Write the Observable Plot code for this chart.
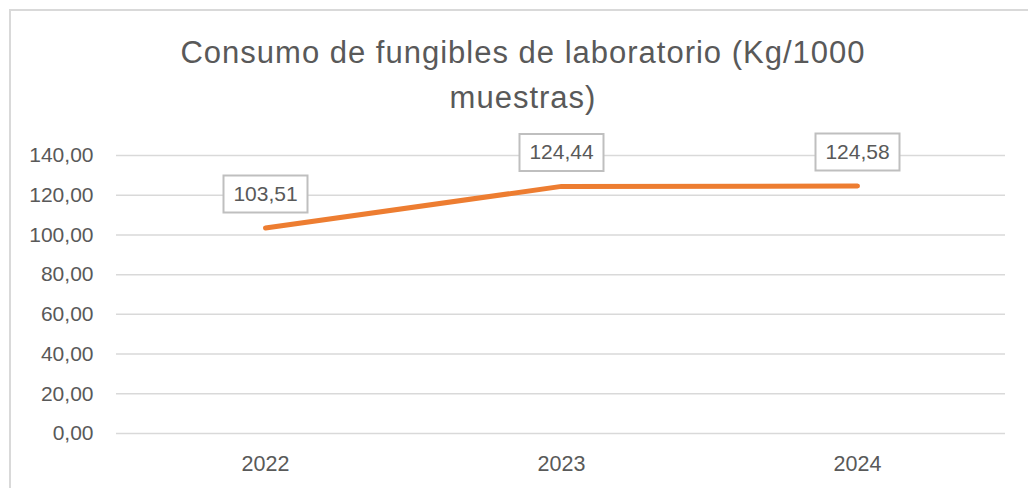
<!DOCTYPE html>
<html>
<head>
<meta charset="utf-8">
<script src="https://cdn.jsdelivr.net/npm/d3@7"></script>
<script src="https://cdn.jsdelivr.net/npm/@observablehq/plot@0.6"></script>
<style>
  html, body { margin: 0; padding: 0; background: #fff; overflow: hidden; }
  #wrap { position: relative; width: 1028px; height: 488px; }
  #frame { position: absolute; left: 9px; top: 9px; width: 1040px; height: 520px; border: 2px solid #d9d9d9; box-sizing: border-box; pointer-events: none; }
  #title { position: absolute; left: 0; top: 30px; width: 1046px; text-align: center; font-family: "Liberation Sans", Arial, sans-serif; font-size: 31px; letter-spacing: 1px; line-height: 45px; color: #595959; }
  #chart { position: absolute; left: 0; top: 0; }
</style>
</head>
<body>
<div id="wrap">
  <div id="chart"></div>
  <div id="frame"></div>
  <div id="title"><span>Consumo de fungibles de laboratorio (Kg/1000</span><br><span>muestras)</span></div>
</div>
<script>
const years = ["2022", "2023", "2024"];
const values = [103.51, 124.44, 124.58];
const yTicks = [0, 20, 40, 60, 80, 100, 120, 140];
const labels = ["103,51", "124,44", "124,58"];

const data = years.map((y, i) => ({year: y, value: values[i], label: labels[i]}));
const fmt = d => d.toFixed(2).replace(".", ",");

const boxSymbol = {
  draw(ctx) { ctx.rect(-42, -18.5, 84, 37); }
};

const chart = Plot.plot({
  width: 1028,
  height: 488,
  marginLeft: 116,
  marginRight: 23,
  marginTop: 155,
  marginBottom: 55,
  style: {fontFamily: "'Liberation Sans', Arial, sans-serif", fontSize: "21px", color: "#595959", background: "transparent"},
  x: {type: "point", domain: years, padding: 0.5, label: null},
  y: {domain: [0, 140], label: null},
  marks: [
    Plot.ruleY(yTicks, {stroke: "#d9d9d9", strokeWidth: 1.5, strokeOpacity: 1}),
    Plot.axisY(yTicks, {tickSize: 0, tickPadding: 23, tickFormat: fmt, fill: "#595959", fontSize: 21, label: null}),
    Plot.axisX({tickSize: 0, tickPadding: 22, fill: "#595959", fontSize: 21.5, label: null}),
    Plot.line(data, {x: "year", y: "value", stroke: "#ED7D31", strokeWidth: 5, strokeLinecap: "round", strokeLinejoin: "round"}),
    Plot.dot(data, {x: "year", y: "value", symbol: boxSymbol, r: 10, dy: -34, fill: "#fff", stroke: "#bfbfbf", strokeWidth: 2}),
    Plot.text(data, {x: "year", y: "value", text: "label", dy: -34, fill: "#595959", fontSize: 21})
  ]
});
document.getElementById("chart").appendChild(chart);
</script>
</body>
</html>
